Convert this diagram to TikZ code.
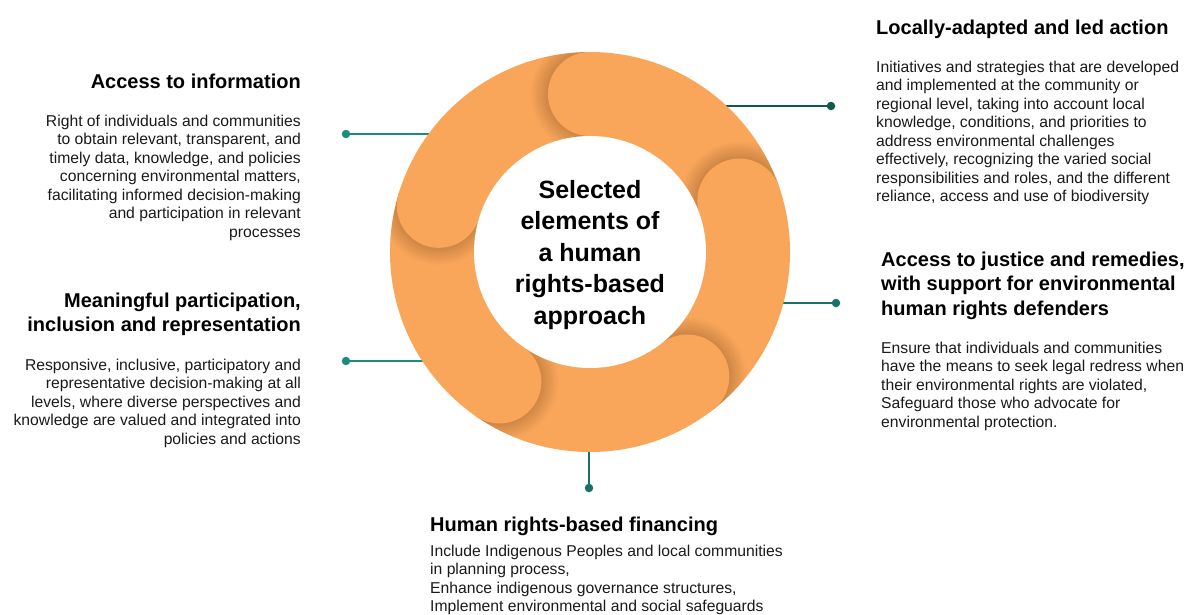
\documentclass[tikz,border=0pt]{standalone}
\usepackage{fontspec}
\setmainfont{Liberation Sans}
\definecolor{ringorange}{HTML}{F9A65A}
\definecolor{tealA}{HTML}{1E8C7D}
\definecolor{tealB}{HTML}{11594C}
\definecolor{tealC}{HTML}{1A7266}
\definecolor{textgray}{HTML}{1A1A1A}
\begin{document}
\begin{tikzpicture}[x=1pt,y=1pt,
  dot/.style={circle,fill=#1,inner sep=0pt,minimum size=8.5pt},
  link/.style={#1,line width=1.6pt},
  head/.style={inner sep=0pt,font=\fontsize{20}{24.5}\selectfont\bfseries},
  body/.style={inner sep=0pt,text=textgray,font=\fontsize{15.7}{18.5}\selectfont}]
\useasboundingbox (-590,-362) rectangle (595,252);

% connectors first, the ring covers their inner ends
\node[dot=tealA] (d1) at (-244,118) {};
\coordinate (r1) at (-150,118);
\draw[link=tealA] (d1) -- (r1);
\node[dot=tealA] (d2) at (-244,-109) {};
\coordinate (r2) at (-150,-109);
\draw[link=tealA] (d2) -- (r2);
\node[dot=tealB] (d3) at (241,146) {};
\coordinate (r3) at (120,146);
\draw[link=tealB] (d3) -- (r3);
\node[dot=tealC] (d4) at (246,-51) {};
\coordinate (r4) at (150,-51);
\draw[link=tealC] (d4) -- (r4);
\node[dot=tealC] (d5) at (-1,-236) {};
\coordinate (r5) at (-1,-170);
\draw[link=tealC] (d5) -- (r5);

% ring of five segments, each head laid over the previous tail
\fill[ringorange] (0,0) circle (200);
\foreach \a in {90,19,-52,-125,163} {
  \begin{scope}
    \clip (0,0) circle (200);
    \clip (0,0) -- (\a:300) -- (\a+15:300) -- (\a+30:300) -- cycle;
    \foreach \k in {1,...,10}
      \fill[black,opacity=0.016] (\a:158) circle ({42+1.7*\k});
  \end{scope}
  \fill[ringorange] (\a:158) circle (42);
}
\fill[white] (0,0) circle (116);

% multi-line nodes sit on the baseline of their last line
\node[anchor=base,align=center,font=\fontsize{25}{31.5}\selectfont\bfseries] (title) at (0,-72)
  {Selected\\elements of\\a human\\rights-based\\approach};

% left column
\node[head,anchor=base east] (h1) at (-289,164) {Access to information};
\node[body,anchor=base east,align=right] (b1) at (-289,15)
  {Right of individuals and communities\\to obtain relevant, transparent, and\\timely data, knowledge, and policies\\concerning environmental matters,\\facilitating informed decision-making\\and participation in relevant\\processes};
\node[head,anchor=base east,align=right] (h2) at (-289,-79.5)
  {Meaningful participation,\\inclusion and representation};
\node[body,anchor=base east,align=right] (b2) at (-289,-192)
  {Responsive, inclusive, participatory and\\representative decision-making at all\\levels, where diverse perspectives and\\knowledge are valued and integrated into\\policies and actions};

% right column
\node[head,anchor=base west] (h3) at (286,218) {Locally-adapted and led action};
\node[body,anchor=base west,align=left] (b3) at (286,50.5)
  {Initiatives and strategies that are developed\\and implemented at the community or\\regional level, taking into account local\\knowledge, conditions, and priorities to\\address environmental challenges\\effectively, recognizing the varied social\\responsibilities and roles, and the different\\reliance, access and use of biodiversity};
\node[head,anchor=base west,align=left] (h4) at (291,-63)
  {Access to justice and remedies,\\with support for environmental\\human rights defenders};
\node[body,anchor=base west,align=left] (b4) at (291,-175)
  {Ensure that individuals and communities\\have the means to seek legal redress when\\their environmental rights are violated,\\Safeguard those who advocate for\\environmental protection.};

% bottom
\node[head,anchor=base west] (h5) at (-160,-279) {Human rights-based financing};
\node[body,anchor=base west,align=left] (b5) at (-160,-359.5)
  {Include Indigenous Peoples and local communities\\in planning process,\\Enhance indigenous governance structures,\\Implement environmental and social safeguards};
\end{tikzpicture}
\end{document}
